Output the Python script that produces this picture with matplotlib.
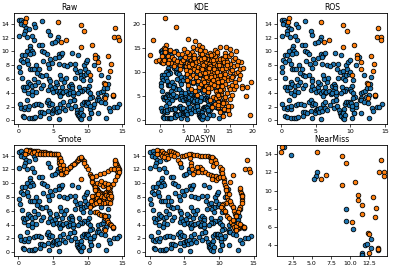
import matplotlib
matplotlib.use("Agg")
import matplotlib.pyplot as plt

# ---------------- data ----------------
blue_x = [0.1,0.4,0.6,0.3,0.8,1.1,0.9,1.5,2.2,2.4,3.4,0.1,0.8,1.3,2.0,2.3,4.3,4.5,5.7,5.6,4.9,5.3,3.0,3.4,
          1.7,1.6,1.9,1.2,2.1,1.6,0.5,0.9,3.4,3.7,4.1,
          0.3,0.6,1.2,1.4,0.1,0.2,1.6,1.9,2.2,2.6,3.0,3.1,4.2,4.4,4.6,4.9,5.3,5.8,6.1,6.3,5.9,5.9,6.6,
          0.6,0.8,1.0,1.3,1.4,1.6,2.0,2.4,2.0,1.4,1.9,2.5,3.2,3.5,3.4,2.3,4.4,4.5,4.5,4.3,4.8,5.0,5.3,5.6,5.5,5.8,
          6.0,6.3,6.5,6.0,6.3,6.6,6.2,6.9,7.2,7.3,7.6,7.8,7.8,7.5,7.4,7.9,8.0,7.9,
          8.2,8.5,8.1,8.9,9.1,9.0,9.3,9.4,9.6,9.4,9.7,9.9,9.8,10.0,10.4,10.2,9.9,9.4,9.2,8.9,8.8,8.6,10.1,10.4,10.7,10.4,
          7.5,7.0,8.2,7.8,6.0,5.4,
          11.5,11.9,12.2,12.4,12.8,12.9,12.7,12.3,11.5,11.4,11.6,12.0,12.5,13.1,13.6,13.3,13.8,14.6,14.2,12.7,11.5,10.5,10.3,10.8,10.9,
          0.2,0.4,0.8,1.0,1.4,1.5,1.2,0.6,0.8,1.5,1.9,2.2,2.4,2.2,2.5,2.9,3.1,3.4,3.1,3.7,3.3,4.1,4.3,4.4,4.6,4.9,4.3,4.4,4.9,5.0,
          5.2,5.4,5.5,5.6,5.9,5.8,6.0,6.4,6.4,6.7,7.1,7.5,7.6,8.0,8.1,8.4,8.5,8.6,8.9,8.7,8.9,9.1,9.1,9.2,9.4,9.7,9.8,9.0,9.3,
          9.9,10.1,10.3,10.5,10.2,
          2.8,4.0,0.5,3.6,2.7,6.8,8.6,10.9,11.3,12.0,13.0]
blue_y = [14.5,14.6,14.3,14.0,13.8,13.4,13.0,13.2,13.9,13.5,14.4,12.2,12.5,12.1,12.2,11.6,13.0,12.3,12.1,11.6,11.2,11.3,10.9,10.9,
          10.8,10.3,10.1,10.0,9.8,9.6,9.5,9.5,10.1,9.9,9.6,
          8.8,8.4,8.7,8.1,7.7,7.0,7.4,7.4,7.4,8.0,7.4,6.6,8.2,7.6,8.9,8.3,9.0,9.6,9.5,9.7,9.2,8.1,8.0,
          4.9,4.4,4.8,4.9,5.5,5.2,5.0,5.1,4.3,3.9,3.6,4.1,4.7,5.1,6.4,6.0,6.0,5.7,5.0,4.4,4.5,4.1,4.8,5.2,4.3,4.0,
          4.3,4.0,4.1,3.5,4.9,5.5,6.0,4.3,3.8,5.0,5.2,5.0,4.7,4.3,3.9,3.6,3.0,4.1,
          6.2,7.0,7.5,7.2,6.5,6.2,5.9,6.6,7.4,8.0,8.4,8.8,6.7,7.0,5.8,5.0,4.6,4.5,4.3,4.3,4.9,4.0,4.2,3.9,3.4,3.2,
          8.2,7.8,8.2,9.8,6.6,5.6,
          4.0,4.1,4.2,4.7,4.7,5.2,3.7,3.4,3.2,3.0,2.9,2.7,2.5,1.8,3.5,1.4,2.0,2.3,2.0,0.4,1.1,1.1,1.7,2.0,2.4,
          2.4,1.8,1.7,1.9,1.7,2.1,2.9,0.6,0.5,0.3,0.3,0.4,0.5,2.2,2.3,2.4,1.2,1.2,0.6,1.0,2.2,2.7,3.0,2.2,2.5,2.4,1.3,0.4,1.0,1.5,
          1.6,1.7,1.2,1.8,1.3,0.2,2.4,2.6,1.8,1.5,2.2,2.8,1.8,2.9,2.1,1.5,1.0,0.8,1.2,0.6,0.4,0.2,1.6,2.4,2.6,2.7,2.2,1.0,0.8,
          2.6,2.5,2.1,1.1,0.3,
          5.5,6.5,6.1,8.6,6.9,6.1,9.4,8.0,9.2,6.6,6.3]

orange_x = [1.1,1.0,5.7,9.0,9.5,6.2,6.9,9.0,10.6,11.0,11.0,11.5,13.0,13.4,13.3,11.6,10.3,12.4,12.5,12.5,13.6,13.6,14.0,13.8,14.4,14.5]
orange_y = [14.8,14.2,14.2,13.8,13.0,11.3,11.7,10.6,10.9,9.5,9.0,8.4,9.3,8.1,7.1,7.4,6.6,5.4,5.3,3.2,3.7,3.6,13.4,12.1,12.1,11.6]

kde_x = [-2.1,-1.5,-0.8,-0.3,0.3,0.6,0.9,0.5,1.0,1.2,0.9,1.5,1.8,2.0,2.5,2.4,3.0,3.3,3.6,3.0,2.2,1.6,2.9,3.9,4.2,4.5,4.3,4.8,5.2,5.0,1.0,3.5,
         5.5,5.6,5.8,5.9,6.0,6.2,6.3,6.4,6.5,6.6,6.8,6.9,7.0,7.1,7.2,7.3,7.4,7.5,7.6,7.7,7.8,7.9,8.0,8.1,8.2,8.3,8.4,8.5,8.6,8.7,8.8,8.9,9.0,9.1,9.2,9.3,9.4,9.5,9.6,9.7,9.8,9.9,10.0,
         6.1,5.7,6.7,7.5,8.0,6.2,5.4,7.0,8.3,9.0,
         10.1,10.2,10.3,10.4,10.5,10.6,10.7,10.8,10.9,11.0,11.1,11.2,11.3,11.4,11.5,11.6,11.7,11.8,11.9,12.0,12.1,12.2,12.3,12.4,12.5,12.6,12.7,12.8,12.9,13.0,
         13.1,13.2,13.3,13.4,13.5,13.6,13.7,13.8,13.9,14.0,14.1,14.2,14.3,14.4,14.5,14.6,14.7,14.8,14.9,15.0,
         10.4,10.8,11.2,11.6,12.0,12.4,12.8,13.2,10.6,11.0,11.4,11.8,12.2,12.6,13.0,13.4,13.8,14.2,10.2,9.6,9.2,8.8,10.0,9.4,
         12.0,12.5,13.0,13.4,13.7,14.0,14.3,14.7,15.0,15.3,15.6,14.9,13.5,12.8,11.9,11.2,10.8,15.2,14.6,13.2,
         15.2,15.3,15.4,15.5,15.6,15.7,15.8,15.9,16.0,16.1,16.2,16.3,16.5,16.6,16.8,17.0,17.2,17.3,17.5,17.8,18.0,18.5,18.8,19.4,19.6,16.4,15.1,16.9,17.6,
         11.5,12.3,13.6,14.4,10.9,9.7,8.6,7.3,6.8,12.9,14.1,15.5,10.3,11.7]
kde_y = [13.6,16.7,12.3,12.5,12.2,12.0,12.6,13.4,14.2,15.7,15.1,14.6,13.4,12.5,13.2,12.0,12.8,11.8,12.4,14.3,14.7,12.0,11.2,13.7,11.4,12.2,10.6,13.9,14.8,12.6,21.3,19.4,
         11.3,10.5,9.6,12.0,16.9,11.8,13.2,10.2,8.9,12.5,14.3,11.0,9.5,12.9,7.9,10.7,13.6,16.5,11.6,9.0,12.2,14.8,10.3,8.2,11.1,13.0,6.9,12.4,9.7,14.0,10.8,7.6,11.9,13.5,8.6,10.1,12.6,6.3,11.3,14.5,9.2,7.2,12.1,
         7.4,8.4,6.5,6.1,5.3,13.9,13.1,15.2,15.6,15.2,
         10.6,13.4,8.3,5.8,11.7,9.4,14.1,7.4,12.5,10.1,6.6,13.2,8.8,11.0,4.9,9.8,12.0,7.9,14.6,10.5,6.0,11.6,8.5,13.8,9.4,3.7,12.2,7.2,10.8,15.2,
         5.4,11.4,8.0,13.0,9.9,6.5,11.9,4.2,10.3,14.0,7.6,12.5,15.2,9.0,5.7,11.1,8.3,13.3,6.9,10.0,
         10.0,11.2,9.2,10.7,12.8,10.0,11.4,9.0,8.7,7.8,12.6,13.4,7.0,8.0,12.7,10.6,8.7,10.8,12.8,9.8,11.6,12.8,9.0,7.9,
         4.5,2.8,1.6,3.2,2.3,4.9,3.6,2.0,4.3,3.0,5.2,1.2,0.8,4.8,3.3,2.6,4.1,6.4,3.0,6.0,
         11.8,8.5,13.8,7.3,10.4,12.6,9.1,6.5,11.2,8.0,13.0,9.8,7.1,11.6,10.0,8.6,10.6,9.3,12.2,7.1,10.9,5.0,6.8,1.1,7.9,14.5,14.9,12.4,6.7,
         13.9,14.3,12.8,12.0,13.6,13.0,14.6,12.9,12.0,6.2,9.6,8.9,10.9,9.1]

smote_x = [1.3,1.6,1.9,2.2,2.5,2.8,3.2,3.5,3.8,4.1,4.5,4.8,5.1,5.4,1.2,1.5,1.9,2.3,2.7,3.1,3.5,3.9,4.3,4.7,5.1,5.4,
           5.8,5.9,5.9,6.0,6.0,6.1,6.2,6.4,6.6,6.0,6.2,6.4,6.6,
           7.2,7.5,7.8,8.1,8.4,8.7,7.0,7.4,8.0,8.6,9.2,9.4,8.8,9.1,9.7,10.0,10.3,10.5,
           10.7,10.8,10.9,11.0,11.2,11.3,11.4,11.6,11.8,12.0,12.2,12.4,12.6,12.8,11.1,11.3,11.5,11.7,11.9,12.1,12.3,12.5,12.7,
           12.9,13.1,13.2,13.3,13.4,13.2,12.8,12.4,12.0,11.6,11.2,10.8,10.5,10.6,10.9,11.2,11.4,11.7,12.0,12.3,12.6,12.9,13.1,
           10.7,11.0,11.3,11.8,12.2,12.6,12.9,13.2,11.9,12.5,13.0,
           14.0,14.1,14.2,14.3,14.4,14.2,14.3,14.5,14.6,14.1,13.9,14.4,14.2,13.9,13.6,13.3,13.1,
           11.2,11.8,12.4,13.0,13.4,
           11.1,11.4,11.7,12.0,12.3,12.5,12.8,13.0,13.2,13.4,10.6,10.9,11.2,10.5,10.7]
smote_y = [14.8,14.8,14.7,14.7,14.6,14.6,14.5,14.5,14.5,14.4,14.4,14.3,14.3,14.3,14.4,14.6,14.4,14.5,14.3,14.3,14.2,14.3,14.2,14.2,14.2,14.2,
           13.8,13.4,13.0,12.6,12.2,11.8,11.5,11.4,11.6,13.6,13.2,12.6,12.1,
           12.0,12.3,12.6,12.9,13.2,13.5,12.1,12.4,12.8,13.3,13.5,13.2,13.7,13.7,12.5,12.0,11.4,11.1,
           10.5,10.1,9.8,9.3,9.1,8.8,8.6,8.2,8.0,7.8,7.6,7.4,7.3,7.2,9.2,9.0,8.9,8.7,8.6,8.5,8.5,8.6,8.8,
           9.0,9.1,8.7,8.4,7.8,7.5,7.3,7.2,7.1,7.2,7.3,7.0,6.8,7.6,8.1,7.7,7.9,7.6,8.2,8.0,8.3,8.1,7.9,
           10.2,9.7,10.0,9.9,9.6,9.8,9.5,9.7,10.3,10.1,9.9,
           13.2,12.9,12.6,12.4,12.3,12.0,11.8,11.9,12.0,12.5,12.8,11.4,11.0,10.4,9.9,9.5,9.2,
           11.1,11.3,11.5,11.8,12.0,
           5.9,5.8,5.6,5.4,5.2,5.0,4.7,4.4,4.1,3.9,6.8,7.0,7.2,7.5,8.2]

ada_x = [1.4,1.7,2.0,2.3,2.5,1.3,1.8,2.1,2.6,2.8,3.1,3.4,3.7,4.0,3.0,3.5,4.1,4.4,4.7,5.0,5.3,
         6.0,6.4,6.8,7.2,7.6,8.0,8.4,8.7,8.9,9.2,8.8,9.3,9.1,9.4,
         5.8,5.9,6.0,6.1,6.5,7.0,7.3,7.1,7.6,8.0,8.4,8.8,9.2,9.6,10.0,7.5,6.8,
         10.3,10.5,10.7,10.8,10.9,10.2,10.4,
         11.0,11.1,11.2,11.1,11.3,11.0,10.6,10.4,10.5,
         10.6,10.9,11.2,11.5,11.8,12.0,12.2,12.4,
         11.8,12.0,12.2,12.3,12.6,12.9,13.2,13.4,12.8,13.0,12.5,12.7,13.1,
         13.1,13.2,13.3,13.4,13.3,13.1,12.9,12.7,
         9.5,9.8,10.1,10.4,12.1,11.6,10.9,12.0]
ada_y = [14.7,14.6,14.4,14.2,14.0,14.3,14.0,13.8,13.6,14.6,14.6,14.5,14.4,14.3,14.1,14.0,13.3,13.0,13.9,14.0,14.1,
         14.2,14.1,14.1,14.0,14.0,13.9,13.9,13.8,13.6,13.7,13.2,12.8,12.5,13.4,
         13.6,13.0,12.5,12.0,11.6,12.0,12.3,11.8,11.7,11.6,11.4,11.2,11.0,11.0,10.9,12.0,12.4,
         11.8,11.3,10.6,10.2,9.8,12.3,12.0,
         9.2,8.8,8.5,8.0,7.6,7.2,7.0,6.8,6.4,
         6.2,5.8,5.3,4.9,4.4,4.0,3.6,3.3,
         7.0,6.5,6.0,5.6,3.4,3.5,3.6,3.8,3.7,3.9,3.8,4.2,4.1,
         9.0,8.6,8.3,7.8,7.5,6.6,6.2,5.8,
         10.4,10.7,10.9,11.5,11.2,10.2,6.0,4.7]

nm_blue_x = [1.3,2.2,5.7,5.6,5.3,9.5,9.5,10.4,11.9,12.2,12.8,12.7,11.5,11.5,11.6,13.6]
nm_blue_y = [14.8,13.9,12.1,11.6,11.3,8.0,6.7,5.8,4.1,4.2,4.7,3.7,3.2,3.0,2.9,3.5]

# ---------------- plot ----------------
BLUE = "#1f77b4"
ORANGE = "#ff7f0e"
plt.rcParams['font.family'] = ['DejaVu Sans']

fig, axes = plt.subplots(2, 3, figsize=(3.93, 2.68), dpi=100)
fig.subplots_adjust(left=0.036, right=0.985, top=0.951, bottom=0.045, wspace=0.19, hspace=0.19)

S = 11
LW = 0.6

def scat(ax, xb, yb, xo, yo):
    ax.scatter(xb, yb, s=S, c=BLUE, edgecolors='k', linewidths=LW, zorder=2)
    ax.scatter(xo, yo, s=S, c=ORANGE, edgecolors='k', linewidths=LW, zorder=3)

panels = [
    ("Raw", blue_x, blue_y, orange_x, orange_y),
    ("KDE", blue_x, blue_y, kde_x + orange_x, kde_y + orange_y),
    ("ROS", blue_x, blue_y, orange_x, orange_y),
    ("Smote", blue_x, blue_y, smote_x + orange_x, smote_y + orange_y),
    ("ADASYN", blue_x, blue_y, ada_x + orange_x, ada_y + orange_y),
    ("NearMiss", nm_blue_x, nm_blue_y, orange_x, orange_y),
]

for ax, (title, xb, yb, xo, yo) in zip(axes.flat, panels):
    scat(ax, xb, yb, xo, yo)
    ax.set_title(title, fontsize=5.5, pad=2)
    ax.tick_params(labelsize=4.5, length=2, width=0.5, pad=1.5)
    for sp in ax.spines.values():
        sp.set_linewidth(0.6)
    if title == "KDE":
        ax.set_xticks([0, 5, 10, 15, 20])
        ax.set_yticks([0, 5, 10, 15, 20])
    elif title == "NearMiss":
        ax.set_xlim(0.4, 14.85)
        ax.set_ylim(2.85, 15.0)
        ax.set_xticks([2.5, 5.0, 7.5, 10.0, 12.5])
        ax.set_yticks([4, 6, 8, 10, 12, 14])
    else:
        ax.set_xticks([0, 5, 10, 15])
        ax.set_yticks([0, 2, 4, 6, 8, 10, 12, 14])

fig.savefig("out.png", dpi=100)
